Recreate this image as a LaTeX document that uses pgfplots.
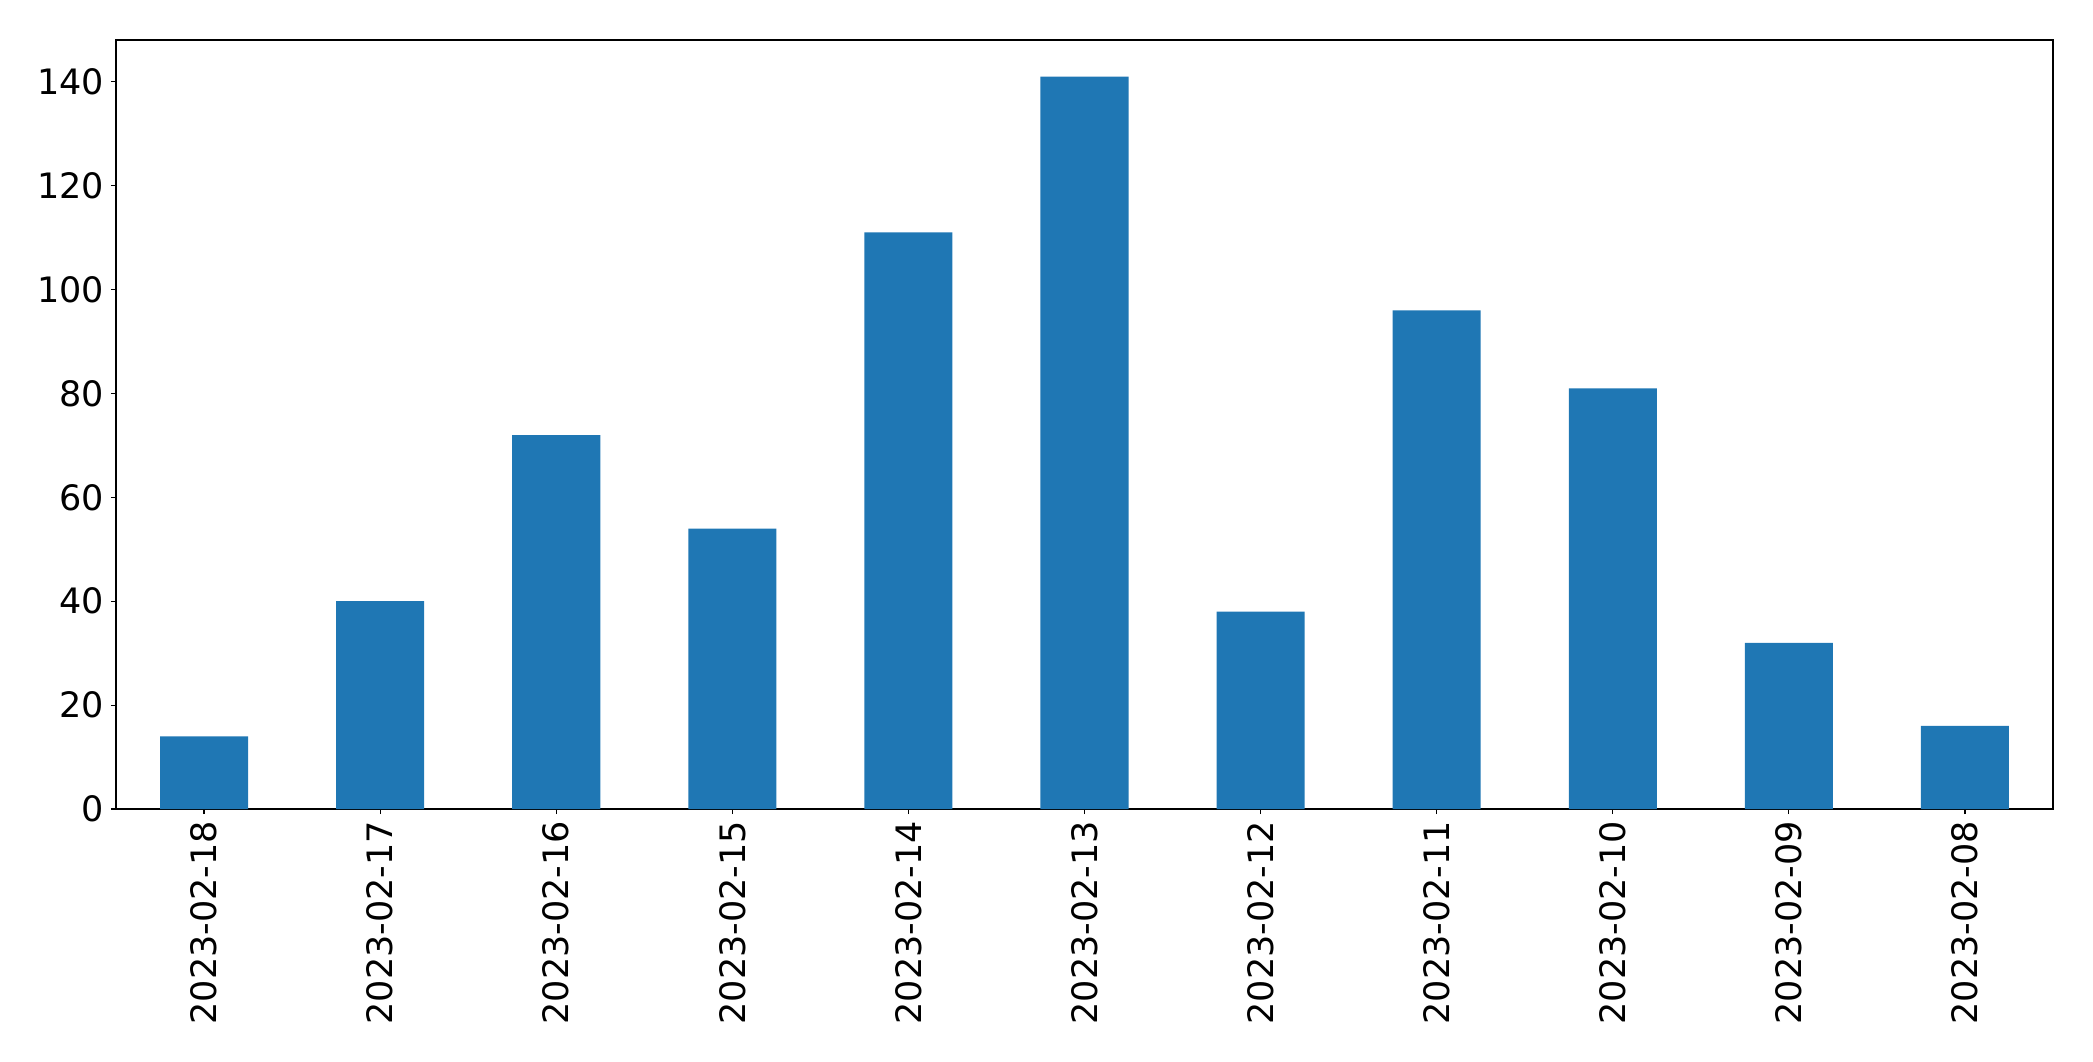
\documentclass[border=0pt]{standalone}
\usepackage{pgfplots}
\pgfplotsset{compat=1.18}
\usepackage{fontspec}
\setmainfont{DejaVu Sans}
\usetikzlibrary{calc}
\definecolor{tabblue}{HTML}{1F77B4}
\begin{document}
\begin{tikzpicture}
\begin{axis}[
  scale only axis,
  width=968.5pt, height=384.5pt,
  xmin=-0.5, xmax=10.5,
  ymin=0, ymax=148.05,
  ybar, bar width=0.5,
  xtick={0,...,10},
  xticklabels={2023-02-18,2023-02-17,2023-02-16,2023-02-15,2023-02-14,2023-02-13,2023-02-12,2023-02-11,2023-02-10,2023-02-09,2023-02-08},
  ytick={0,20,...,140},
  tick align=outside,
  major tick length=2.5pt,
  xtick pos=bottom, ytick pos=left,
  tick style={black, line width=0.6pt},
  axis line style={black, line width=0.6pt},
  /pgf/number format/assume math mode=true,
  tick label style={font=\fontsize{17.5}{20}\selectfont},
  xticklabel style={rotate=90, anchor=east},
  yticklabel style={anchor=east},
]
\addplot[fill=tabblue, draw=none] coordinates {
(0,14) (1,40) (2,72) (3,54) (4,111) (5,141) (6,38) (7,96) (8,81) (9,32) (10,16)
};
\end{axis}
\pgfresetboundingbox
\path ($(current axis.south west)+(-58pt,-126pt)$) rectangle ($(current axis.north east)+(20pt,20pt)$);
\end{tikzpicture}
\end{document}
